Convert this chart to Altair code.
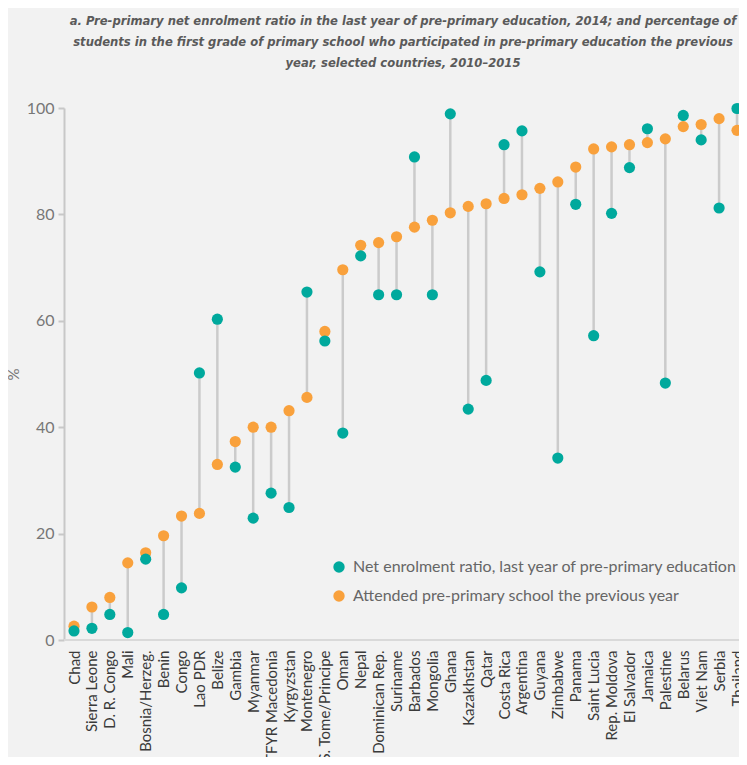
import altair as alt
import pandas as pd

countries = ["Chad", "Sierra Leone", "D. R. Congo", "Mali", "Bosnia/Herzeg.", "Benin", "Congo",
             "Lao PDR", "Belize", "Gambia", "Myanmar", "TFYR Macedonia", "Kyrgyzstan", "Montenegro",
             "S. Tome/Principe", "Oman", "Nepal", "Dominican Rep.", "Suriname", "Barbados", "Mongolia",
             "Ghana", "Kazakhstan", "Qatar", "Costa Rica", "Argentina", "Guyana", "Zimbabwe", "Panama",
             "Saint Lucia", "Rep. Moldova", "El Salvador", "Jamaica", "Palestine", "Belarus", "Viet Nam",
             "Serbia", "Thailand"]

net_enrolment = [1.7, 2.2, 4.8, 1.4, 15.2, 4.8, 9.8, 50.2, 60.3, 32.5, 22.9, 27.6, 24.9, 65.4, 56.2,
                 38.9, 72.2, 64.9, 64.9, 90.8, 64.9, 98.9, 43.4, 48.8, 93.1, 95.7, 69.2, 34.2, 81.9,
                 57.2, 80.2, 88.8, 96.1, 48.3, 98.6, 94.0, 81.2, 99.9]

attended = [2.6, 6.2, 8.0, 14.5, 16.4, 19.6, 23.3, 23.8, 33.0, 37.3, 40.0, 40.0, 43.1, 45.6, 58.0,
            69.6, 74.2, 74.7, 75.8, 77.6, 78.9, 80.3, 81.5, 82.0, 83.0, 83.7, 84.9, 86.1, 88.9,
            92.3, 92.7, 93.1, 93.5, 94.2, 96.5, 96.9, 98.0, 95.8]

series_names = ["Net enrolment ratio, last year of pre-primary education",
                "Attended pre-primary school the previous year"]
series_colors = ["#00a99d", "#f9a13c"]

title_lines = ["a. Pre-primary net enrolment ratio in the last year of pre-primary education, 2014; and percentage of",
               "students in the first grade of primary school who participated in pre-primary education the previous",
               "year, selected countries, 2010\u20132015"]

y_ticks = [0, 20, 40, 60, 80, 100]

df = pd.DataFrame({"country": countries, series_names[0]: net_enrolment, series_names[1]: attended})

W = 675
H = 532

x_enc = alt.X("country:N", sort=countries, title=None,
              scale=alt.Scale(type="point", domain=countries, range=[10, 673], padding=0),
              axis=alt.Axis(labelAngle=-90, labelFontSize=15, labelFont="Lato", labelColor="#3a3a3a",
                            ticks=False, domain=False, labelPadding=10, grid=False))

y_scale = alt.Scale(domain=[0, 100], nice=False)

base = alt.Chart(df)

rules = base.mark_rule(color="#cbcbcb", strokeWidth=2.5).encode(
    x=x_enc,
    y=alt.Y(f"{series_names[0]}:Q", scale=y_scale, title="%",
            axis=alt.Axis(values=y_ticks, grid=False, domainColor="#c8c8c8", domainWidth=2,
                          tickColor="#c8c8c8", tickSize=6, tickWidth=2, labelFontSize=16,
                          labelFont="Lato", labelColor="#777777", labelPadding=4,
                          titleFontSize=15, titleFont="Lato", titleFontWeight="normal",
                          titleColor="#777777", titlePadding=5)),
    y2=alt.Y2(f"{series_names[1]}:Q"),
)

baseline = alt.Chart(pd.DataFrame({"v": [0]})).mark_rule(color="#d9d9d9", strokeWidth=2).encode(
    y=alt.Y("v:Q", scale=y_scale)
)

points = base.transform_fold([series_names[1], series_names[0]], as_=["series", "value"]).mark_circle(
    size=125, opacity=1
).encode(
    x=x_enc,
    y=alt.Y("value:Q", scale=y_scale),
    color=alt.Color("series:N", scale=alt.Scale(domain=series_names, range=series_colors),
                    legend=alt.Legend(title=None, orient="none", legendX=267, legendY=451,
                                      symbolType="circle", symbolSize=130, symbolOpacity=1,
                                      labelFontSize=16, labelFont="Lato", labelColor="#666666",
                                      labelLimit=500, rowPadding=13, symbolOffset=0, labelOffset=6)),
)

chart = alt.layer(baseline, rules, points).properties(
    width=W, height=H,
    title=alt.TitleParams(text=title_lines, anchor="middle",
                          font="DejaVu Sans Condensed, Roboto Condensed, Roboto, sans-serif",
                          fontSize=12.9, fontStyle="italic", fontWeight="bold", color="#5a5a5a",
                          lineHeight=21, offset=30, dx=1.5),
    autosize=alt.AutoSizeParams(type="none"),
    padding={"left": 56, "top": 100, "right": 0, "bottom": 117},
    background="#f2f2f2",
).configure_view(stroke=None)

chart.save("out.html", embed_options={"renderer": "svg", "actions": False})
